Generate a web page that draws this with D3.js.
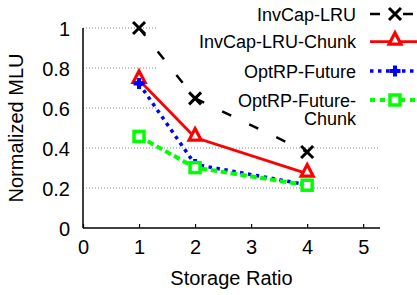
<!DOCTYPE html>
<html><head><meta charset="utf-8">
<script src="https://cdn.jsdelivr.net/npm/d3@7"></script>
<style>body{margin:0;background:#fff}svg{display:block;font-family:"Liberation Sans",Arial,Helvetica,sans-serif}</style>
</head><body>
<svg id="c" width="417" height="295"></svg>
<script>
const xValues = [1, 2, 4];
const seriesNames = ["InvCap-LRU", "InvCap-LRU-Chunk", "OptRP-Future", "OptRP-Future-Chunk"];
const invCapLRU = [1.0, 0.648, 0.38];
const invCapLRUChunk = [0.74, 0.452, 0.272];
const optRPFuture = [0.722, 0.318, 0.216];
const optRPFutureChunk = [0.458, 0.302, 0.214];
const xTicks = [0, 1, 2, 3, 4, 5];
const yTicks = [0, 0.2, 0.4, 0.6, 0.8, 1];
const yTickLabels = ["0", "0.2", "0.4", "0.6", "0.8", "1"];

const styles = [
  {color:"#000000", dash:"10,20", legDash:"10,23", width:2.5, marker:"x"},
  {color:"#ff0000", dash:null, legDash:null, width:2.8, marker:"tri"},
  {color:"#0000ff", dash:"3.5,4.5", legDash:"3.5,4.5", width:3.5, marker:"plus"},
  {color:"#00ff00", dash:"6.5,3.5", legDash:"5,5", width:4, marker:"sq"}
];
const allSeries = [invCapLRU, invCapLRUChunk, optRPFuture, optRPFutureChunk];

const svg = d3.select("#c");
const L = 83, R = 380, T = 28, B = 228;
const x = d3.scaleLinear().domain([0, 5.3]).range([L, R]);
const y = d3.scaleLinear().domain([0, 1]).range([B, T]);

// grid
svg.append("g").selectAll("line").data(yTicks.filter(d => d > 0)).join("line")
  .attr("x1", L).attr("x2", R).attr("y1", d => y(d)).attr("y2", d => y(d))
  .attr("stroke", "#888").attr("stroke-width", 1).attr("stroke-dasharray", "1,2");

// legend background
svg.append("rect").attr("x", 158).attr("y", 0).attr("width", 259).attr("height", 127).attr("fill", "#fff");

// axes
const xAxis = d3.axisBottom(x).tickValues(xTicks).tickSize(-4).tickPadding(12).tickFormat(d3.format("d"));
const gx = svg.append("g").attr("transform", `translate(0,${B})`).call(xAxis);
gx.select(".domain").remove();
gx.selectAll(".tick line").attr("stroke", "#000").attr("stroke-width", 1.2);
gx.selectAll("text").attr("font-size", 20).attr("fill", "#000").attr("font-family", null);
svg.append("line").attr("x1", L).attr("x2", R).attr("y1", B).attr("y2", B).attr("stroke", "#000").attr("stroke-width", 1.5);

const yAxis = d3.axisLeft(y).tickValues(yTicks).tickSize(0).tickPadding(13).tickFormat((d, i) => yTickLabels[i]);
const gy = svg.append("g").attr("transform", `translate(${L},0)`).call(yAxis);
gy.select(".domain").remove();
gy.selectAll("text").attr("font-size", 20).attr("fill", "#000").attr("font-family", null).attr("dy", "0.36em");
svg.append("line").attr("x1", L).attr("x2", L).attr("y1", T).attr("y2", B).attr("stroke", "#000").attr("stroke-width", 1.5);

svg.append("text").attr("x", (L + R) / 2).attr("y", 285).attr("text-anchor", "middle").attr("font-size", 20).text("Storage Ratio");
svg.append("text").attr("transform", `translate(23,${(T + B) / 2}) rotate(-90)`).attr("text-anchor", "middle").attr("font-size", 20).text("Normalized MLU");

function drawMarker(g, type, cx, cy, color) {
  if (type === "x") {
    const s = 6;
    g.append("path").attr("d", `M${cx-s},${cy-s}L${cx+s},${cy+s}M${cx-s},${cy+s}L${cx+s},${cy-s}`)
      .attr("stroke", color).attr("stroke-width", 3).attr("fill", "none");
  } else if (type === "tri") {
    g.append("path").attr("d", `M${cx},${cy-9}L${cx+6},${cy+2.5}L${cx-6},${cy+2.5}Z`)
      .attr("stroke", color).attr("stroke-width", 3.2).attr("fill", "#fff").attr("stroke-linejoin", "miter");
  } else if (type === "plus") {
    const s = 5.5;
    g.append("path").attr("d", `M${cx-s},${cy}L${cx+s},${cy}M${cx},${cy-s}L${cx},${cy+s}`)
      .attr("stroke", color).attr("stroke-width", 4).attr("fill", "none");
  } else if (type === "sq") {
    const s = 5;
    g.append("rect").attr("x", cx - s).attr("y", cy - s).attr("width", 2 * s).attr("height", 2 * s)
      .attr("stroke", color).attr("stroke-width", 3.5).attr("fill", "#fff");
  }
}

const line = d3.line().x(d => x(d[0])).y(d => y(d[1]));
allSeries.forEach((vals, i) => {
  const st = styles[i];
  const g = svg.append("g");
  const pts = xValues.map((xv, j) => [xv, vals[j]]);
  g.append("path").attr("d", line(pts)).attr("fill", "none").attr("stroke", st.color)
    .attr("stroke-width", st.width).attr("stroke-dasharray", st.dash);
  pts.forEach(p => drawMarker(g, st.marker, x(p[0]), y(p[1]), st.color));
});

// legend
const legY = [14, 41.7, 71, 100];
seriesNames.forEach((name, i) => {
  const st = styles[i];
  const g = svg.append("g");
  const parts = name === "OptRP-Future-Chunk" ? ["OptRP-Future-", "Chunk"] : [name];
  parts.forEach((p, k) => {
    g.append("text").attr("x", 356).attr("y", legY[i] + 6.5 + k * 18.5).attr("text-anchor", "end")
      .attr("font-size", 18).text(p);
  });
  g.append("line").attr("x1", 370).attr("x2", 420).attr("y1", legY[i]).attr("y2", legY[i])
    .attr("stroke", st.color).attr("stroke-width", st.width).attr("stroke-dasharray", st.legDash);
  drawMarker(g, st.marker, 395, legY[i], st.color);
});
</script>
</body></html>
